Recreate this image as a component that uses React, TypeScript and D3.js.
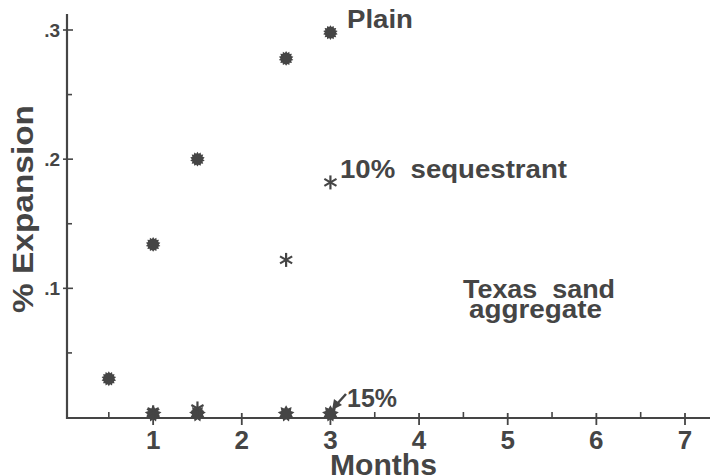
import React from "react";
import * as d3 from "d3";

const W = 710;
const H = 476;
const INK = "#454545";

const plainMonths = [0.5, 1, 1.5, 2.5, 3];
const plainValues = [0.03, 0.134, 0.2, 0.278, 0.298];

const seq10Months = [1, 1.5, 2.5, 3];
const seq10Values = [0.004, 0.007, 0.122, 0.182];

const seq15Months = [1, 1.5, 2.5, 3];
const seq15Values = [0.003, 0.003, 0.003, 0.003];

const xMajorTicks = [1, 2, 3, 4, 5, 6, 7];
const xMinorTicks = [0.5, 1.5, 2.5, 3.5, 4.5, 5.5, 6.5];
const yMajorTicks = [0.1, 0.2, 0.3];
const yMinorTicks = [0.05, 0.15, 0.25];
const yTickLabels = [".1", ".2", ".3"];

const x = d3.scaleLinear().domain([0, 7]).range([64.5, 685]);
const y = d3.scaleLinear().domain([0, 0.3]).range([417.5, 30]);

const AXIS_X = 67;
const AXIS_Y = 418;

function burstPath(rIn: number, rOut: number, n: number): string {
  const pts: [number, number][] = [];
  for (let i = 0; i < n * 2; i++) {
    pts.push([(Math.PI * i) / n, i % 2 === 0 ? rOut : rIn]);
  }
  return d3.lineRadial().curve(d3.curveLinearClosed)(pts) as string;
}

const plainBurst = burstPath(5.6, 7.4, 14);
const bigBurst = burstPath(5.5, 8.5, 9);

function Asterisk({ cx, cy, r }: { cx: number; cy: number; r: number }) {
  const angles = [90, 30, 150];
  return (
    <g stroke={INK} strokeWidth={2.2} strokeLinecap="butt">
      {angles.map((a) => {
        const rad = (a * Math.PI) / 180;
        const dx = Math.cos(rad) * r;
        const dy = Math.sin(rad) * r;
        return <line key={a} x1={cx - dx} y1={cy - dy} x2={cx + dx} y2={cy + dy} />;
      })}
    </g>
  );
}

export default function App() {
  const font = "'Liberation Sans', Arial, Helvetica, sans-serif";
  return (
    <svg
      width={W}
      height={H}
      viewBox={`0 0 ${W} ${H}`}
      style={{ position: "absolute", left: 0, top: 0, background: "#fff" }}
      fontFamily={font}
    >
      <rect width={W} height={H} fill="#fff" />
      {/* axes */}
      <line x1={AXIS_X} y1={14} x2={AXIS_X} y2={AXIS_Y + 1} stroke={INK} strokeWidth={2.2} />
      <line x1={AXIS_X - 1} y1={AXIS_Y} x2={W} y2={AXIS_Y} stroke={INK} strokeWidth={2.2} />

      {/* y ticks */}
      {yMajorTicks.map((t, i) => (
        <g key={"ym" + t}>
          <line x1={AXIS_X - 4} x2={AXIS_X + 6} y1={y(t)} y2={y(t)} stroke={INK} strokeWidth={1.6} />
          <text x={60} y={y(t) + 7} textAnchor="end" fontSize={19} fontWeight="bold" fill={INK}>
            {yTickLabels[i]}
          </text>
        </g>
      ))}
      {yMinorTicks.map((t) => (
        <line key={"yn" + t} x1={AXIS_X} x2={AXIS_X + 5} y1={y(t)} y2={y(t)} stroke={INK} strokeWidth={1.6} />
      ))}

      {/* x ticks */}
      {xMajorTicks.map((t) => (
        <g key={"xm" + t}>
          <line x1={x(t)} x2={x(t)} y1={AXIS_Y - 5} y2={AXIS_Y + 7} stroke={INK} strokeWidth={1.8} />
          <text x={x(t)} y={449} textAnchor="middle" fontSize={26} fontWeight="bold" fill={INK}>
            {t}
          </text>
        </g>
      ))}
      {xMinorTicks.map((t) => (
        <line key={"xn" + t} x1={x(t)} x2={x(t)} y1={AXIS_Y - 6} y2={AXIS_Y} stroke={INK} strokeWidth={1.6} />
      ))}

      {/* axis titles */}
      <text x={330} y={475} fontSize={29} fontWeight="bold" fill={INK} textLength={107} lengthAdjust="spacingAndGlyphs">
        Months
      </text>
      <text
        transform={`translate(33, 313) rotate(-90)`}
        fontSize={30}
        fontWeight="bold"
        fill={INK}
        textLength={208}
        lengthAdjust="spacingAndGlyphs"
      >
        % Expansion
      </text>

      {/* 15% series */}
      {seq15Months.map((m, i) => (
        <path key={"s15" + m} d={bigBurst} transform={`translate(${x(m)}, ${y(seq15Values[i])})`} fill={INK} />
      ))}

      {/* 10% sequestrant series */}
      {seq10Months.map((m, i) => (
        <Asterisk key={"s10" + m} cx={x(m)} cy={y(seq10Values[i])} r={7} />
      ))}

      {/* plain series */}
      {plainMonths.map((m, i) => (
        <path key={"p" + m} d={plainBurst} transform={`translate(${x(m)}, ${y(plainValues[i])})`} fill={INK} />
      ))}

      {/* annotations */}
      <text x={347} y={28} fontSize={25} fontWeight="bold" fill={INK} textLength={66} lengthAdjust="spacingAndGlyphs">
        Plain
      </text>
      <text x={340} y={178} fontSize={25} fontWeight="bold" fill={INK} textLength={227} lengthAdjust="spacingAndGlyphs" style={{ whiteSpace: "pre" }}>
        {"10%  sequestrant"}
      </text>
      <text x={463} y={298} fontSize={25} fontWeight="bold" fill={INK} textLength={152} lengthAdjust="spacingAndGlyphs" style={{ whiteSpace: "pre" }}>
        {"Texas  sand"}
      </text>
      <text x={469} y={318} fontSize={25} fontWeight="bold" fill={INK} textLength={133} lengthAdjust="spacingAndGlyphs">
        aggregate
      </text>
      <text x={347} y={407} fontSize={25} fontWeight="bold" fill={INK} textLength={50} lengthAdjust="spacingAndGlyphs">
        15%
      </text>
      {/* arrow for 15% */}
      <line x1={346} y1={394} x2={337} y2={404} stroke={INK} strokeWidth={2.5} />
      <path d="M 332 410 L 334 399 L 342 405 Z" fill={INK} />
    </svg>
  );
}
